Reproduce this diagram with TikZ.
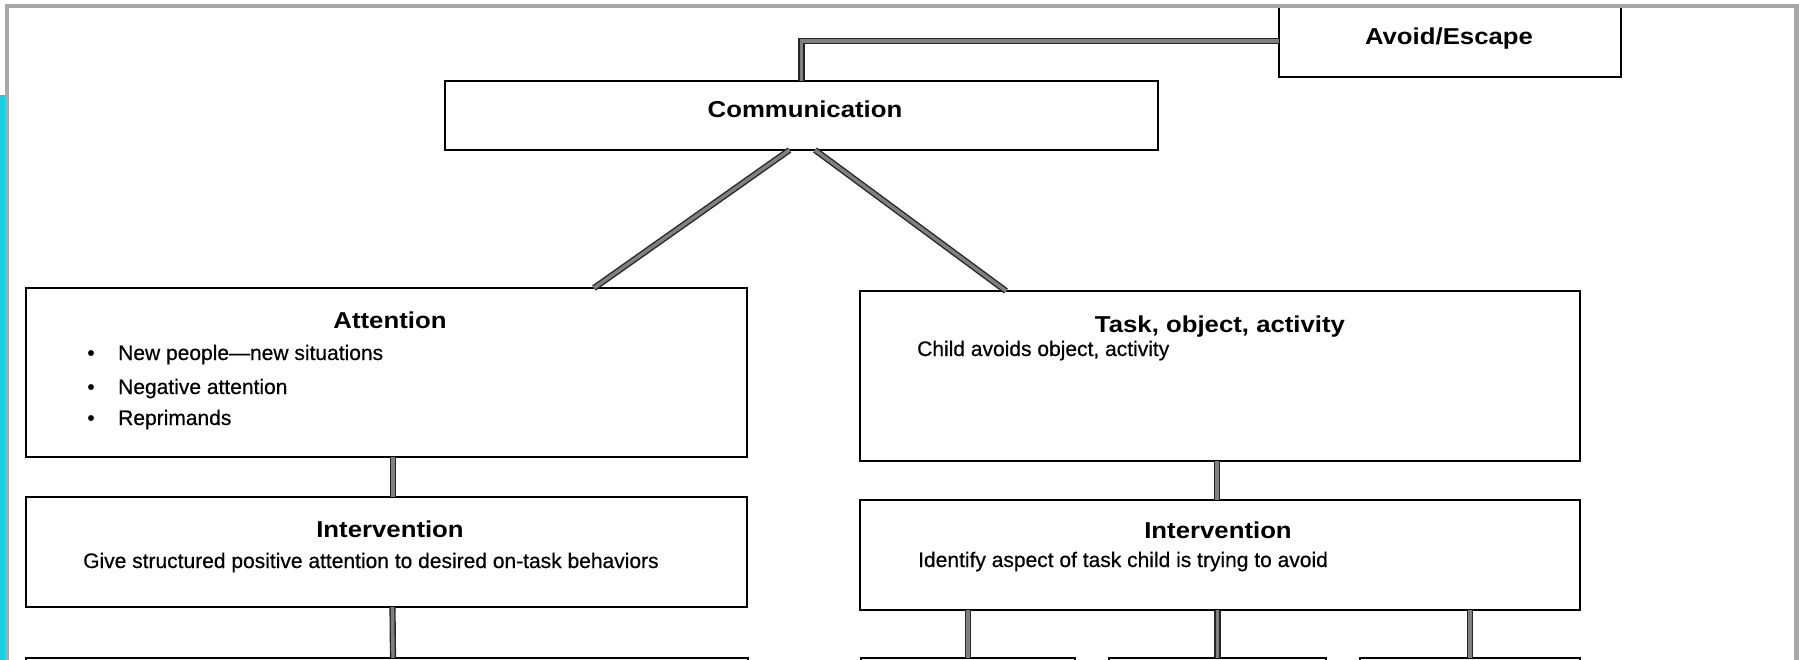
\documentclass[tikz,border=0pt]{standalone}
\usepackage{fontspec}
\setmainfont[FakeBold=0.5]{Liberation Sans}
\newfontfamily\titlefont[FakeStretch=1.12]{Liberation Sans}
\definecolor{framegray}{RGB}{168,168,168}
\definecolor{barcyan}{RGB}{24,208,218}
\begin{document}
\begin{tikzpicture}[x=1pt,y=-1pt,
  box/.style={draw=black, line width=2.8pt, fill=white, inner sep=0pt, outer sep=0pt},
  conn/.style={draw=black!85, line width=1.4pt, double=black!50, double distance=3.4pt},
  title/.style={anchor=base, inner sep=0pt, font=\titlefont\bfseries\fontsize{23}{27}\selectfont},
  body/.style={anchor=base west, inner sep=0pt, font=\fontsize{21}{25}\selectfont},
  dot/.style={anchor=base, inner sep=0pt, font=\fontsize{21}{25}\selectfont},
]
\useasboundingbox (0,0) rectangle (1799,660);
\clip (0,0) rectangle (1799,660);
\fill[white] (0,0) rectangle (1799,660);

% boxes
\node[box, minimum width=713pt, minimum height=69pt] (comm) at (801.5,115.5) {};
\node[box, minimum width=342pt, minimum height=72pt] (avoid) at (1450,41) {};
\node[box, minimum width=721pt, minimum height=169pt] (att) at (386.5,372.5) {};
\node[box, minimum width=720pt, minimum height=170pt] (task) at (1220,376) {};
\node[box, minimum width=721pt, minimum height=110pt] (int1) at (386.5,552) {};
\node[box, minimum width=720pt, minimum height=110pt] (int2) at (1220,555) {};
\node[box, minimum width=722pt, minimum height=100pt] (b0) at (387,708) {};
\node[box, minimum width=214pt, minimum height=100pt] (b1) at (968,708) {};
\node[box, minimum width=217pt, minimum height=100pt] (b2) at (1217.5,708) {};
\node[box, minimum width=220pt, minimum height=100pt] (b3) at (1470,708) {};

% connectors
\draw[conn] (comm.north) |- (avoid.west);
\draw[conn] ([xshift=-12pt]comm.south) -- ([xshift=207.5pt]att.north);
\draw[conn] ([xshift=13.5pt]comm.south) -- ([xshift=-214pt]task.north);
\draw[conn] ([xshift=6.5pt]att.south) -- ([xshift=6.5pt]int1.north);
\draw[conn] ([xshift=-3pt]task.south) -- ([xshift=-3pt]int2.north);
\draw[conn] ([xshift=6pt]int1.south) -- ([xshift=6pt]b0.north);
\draw[conn] (b1.north |- int2.south) -- (b1.north);
\draw[conn] (b2.north |- int2.south) -- (b2.north);
\draw[conn] (b3.north |- int2.south) -- (b3.north);

% texts
\node[title] (commT) at (805,118) {Communication};
\node[title] (avoidT) at (1449,45) {Avoid/Escape};
\node[title] (attT) at (390,328) {Attention};
\node[dot] (d1) at (91,360) {\textbullet};
\node[dot] (d2) at (91,394) {\textbullet};
\node[dot] (d3) at (91,425) {\textbullet};
\node[body] (a1) at (118,360) {New people—new situations};
\node[body] (a2) at (118,394) {Negative attention};
\node[body] (a3) at (118,425) {Reprimands};
\node[title] (int1T) at (390,537) {Intervention};
\node[body] (int1B) at (83,568) {Give structured positive attention to desired on-task behaviors};
\node[title] (taskT) at (1220,332) {Task, object, activity};
\node[body] (taskB) at (917,356) {Child avoids object, activity};
\node[title] (int2T) at (1218,538) {Intervention};
\node[body] (int2B) at (918,567) {Identify aspect of task child is trying to avoid};

% frame and side bar
\draw[framegray, line width=4.5pt] (7,6) rectangle (1796.5,720);
\fill[barcyan] (0,95) rectangle (5,660);
\end{tikzpicture}
\end{document}
